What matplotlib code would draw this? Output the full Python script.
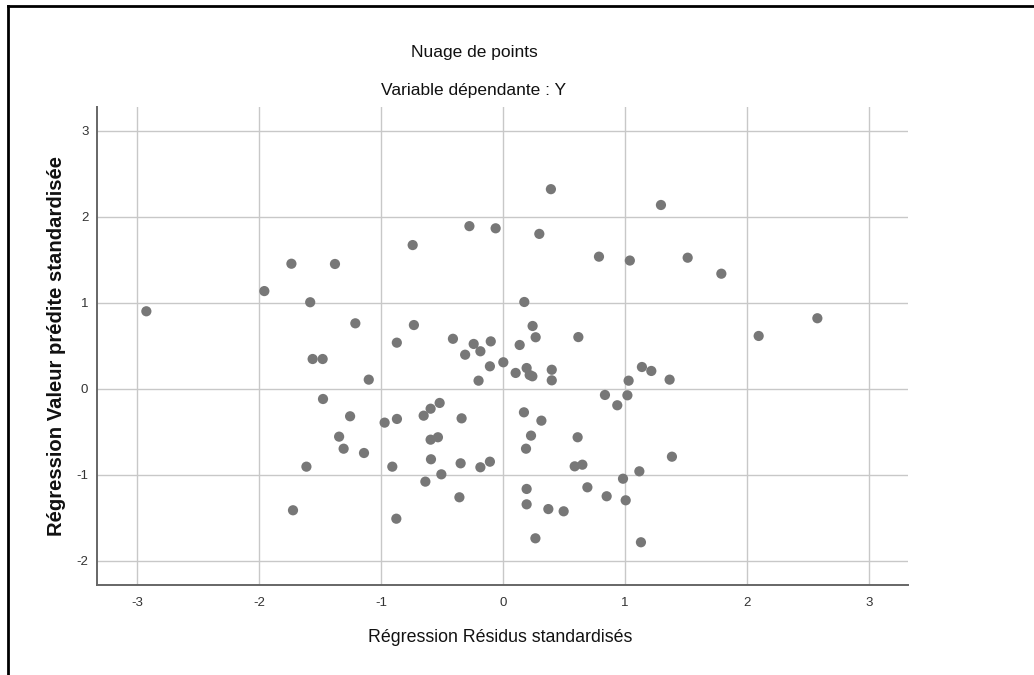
import matplotlib
matplotlib.use("Agg")
import matplotlib.pyplot as plt
from matplotlib.lines import Line2D

plt.rcParams['font.family'] = ['Liberation Sans', 'DejaVu Sans']

residus = [-2.923, -1.956, -1.734, -1.580, -1.377, -0.740, -0.275, -0.060, -1.210, -0.730,
           -0.870, -0.410, -0.240, -0.100, -0.310, -0.185, -0.107, 0.003, -0.200, -1.560,
           -1.478, -1.100, 0.393, 1.295, 0.298, 0.787, 1.040, 1.514, 0.175, 0.243,
           0.268, 0.618, 0.137, 0.104, 0.194, 0.219, 0.241, 0.400, 0.400, 1.139,
           1.216, 1.366, 1.030, 0.836, 1.020, 1.790, 2.577, 2.096, -1.475, -1.253,
           -1.343, -1.306, -1.139, -0.970, -0.869, -1.611, -0.907, -1.721, -0.874, -0.650,
           -0.593, -0.519, -0.339, -0.593, -0.533, -0.590, -0.347, -0.185, -0.107, -0.505,
           -0.636, -0.357, 0.172, 0.315, 0.230, 0.189, 0.194, 0.194, 0.372, 0.266,
           0.937, 0.612, 0.588, 0.651, 1.385, 1.118, 0.984, 0.692, 0.850, 1.006,
           0.4975, 1.131]
predites = [0.900, 1.135, 1.453, 1.005, 1.450, 1.670, 1.890, 1.865, 0.760, 0.740,
            0.535, 0.580, 0.520, 0.550, 0.395, 0.435, 0.260, 0.307, 0.093, 0.345,
            0.345, 0.105, 2.320, 2.136, 1.800, 1.535, 1.490, 1.523, 1.008, 0.729,
            0.598, 0.600, 0.508, 0.183, 0.240, 0.159, 0.144, 0.220, 0.097, 0.252,
            0.206, 0.105, 0.093, -0.073, -0.077, 1.337, 0.819, 0.613, -0.120, -0.321,
            -0.558, -0.698, -0.748, -0.395, -0.352, -0.907, -0.907, -1.414, -1.512, -0.314,
            -0.233, -0.166, -0.345, -0.593, -0.565, -0.821, -0.868, -0.914, -0.849, -0.996,
            -1.081, -1.263, -0.275, -0.372, -0.546, -0.698, -1.166, -1.345, -1.400, -1.740,
            -0.193, -0.565, -0.903, -0.884, -0.791, -0.961, -1.047, -1.147, -1.251, -1.298,
            -1.426, -1.786]

xticks = [-3, -2, -1, 0, 1, 2, 3]
yticks = [-2, -1, 0, 1, 2, 3]

titre1 = "Nuage de points"
titre2 = "Variable dépendante : Y"
xlabel = "Régression Résidus standardisés"
ylabel = "Régression Valeur prédite standardisée"

W, H = 1034, 675
fig = plt.figure(figsize=(W / 100, H / 100), dpi=100)
ax = fig.add_axes([96.7 / W, 1 - 585 / H, (908 - 96.7) / W, (585 - 106.7) / H])

ax.scatter(residus, predites, s=54, color='#777777', edgecolors='none', zorder=3)

ax.set_xlim(-3.33, 3.32)
ax.set_ylim(-2.283, 3.279)
ax.set_xticks(xticks)
ax.set_yticks(yticks)
ax.set_xticklabels([str(t) for t in xticks])
ax.set_yticklabels([str(t) for t in yticks])
ax.grid(True, color='#c8c8c8', linewidth=1.0)
ax.set_axisbelow(True)
for s in ['top', 'right']:
    ax.spines[s].set_visible(False)
for s in ['left', 'bottom']:
    ax.spines[s].set_color('#666666')
    ax.spines[s].set_linewidth(1.4)
ax.tick_params(axis='both', length=0, labelsize=9.5, labelcolor='#333333')
ax.tick_params(axis='x', pad=9)
ax.tick_params(axis='y', pad=6)

fig.text(474 / W, 1 - 52 / H, titre1, ha='center', va='center', fontsize=12.5, color='#111111')
fig.text(474 / W, 1 - 90 / H, titre2, ha='center', va='center', fontsize=12.5, color='#111111')
fig.text(500 / W, 1 - 638 / H, xlabel, ha='center', va='center', fontsize=12.8, color='#111111')
fig.text(57 / W, 1 - 346.5 / H, ylabel, ha='center', va='center', rotation=90,
         fontsize=14.6, fontweight='bold', color='#111111')

fig.add_artist(Line2D([8 / W, 1.0], [1 - 6 / H, 1 - 6 / H], transform=fig.transFigure,
                      color='black', linewidth=2))
fig.add_artist(Line2D([8 / W, 8 / W], [1 - 6 / H, 0.0], transform=fig.transFigure,
                      color='black', linewidth=2))

fig.savefig('out.png', dpi=100, facecolor='white')
